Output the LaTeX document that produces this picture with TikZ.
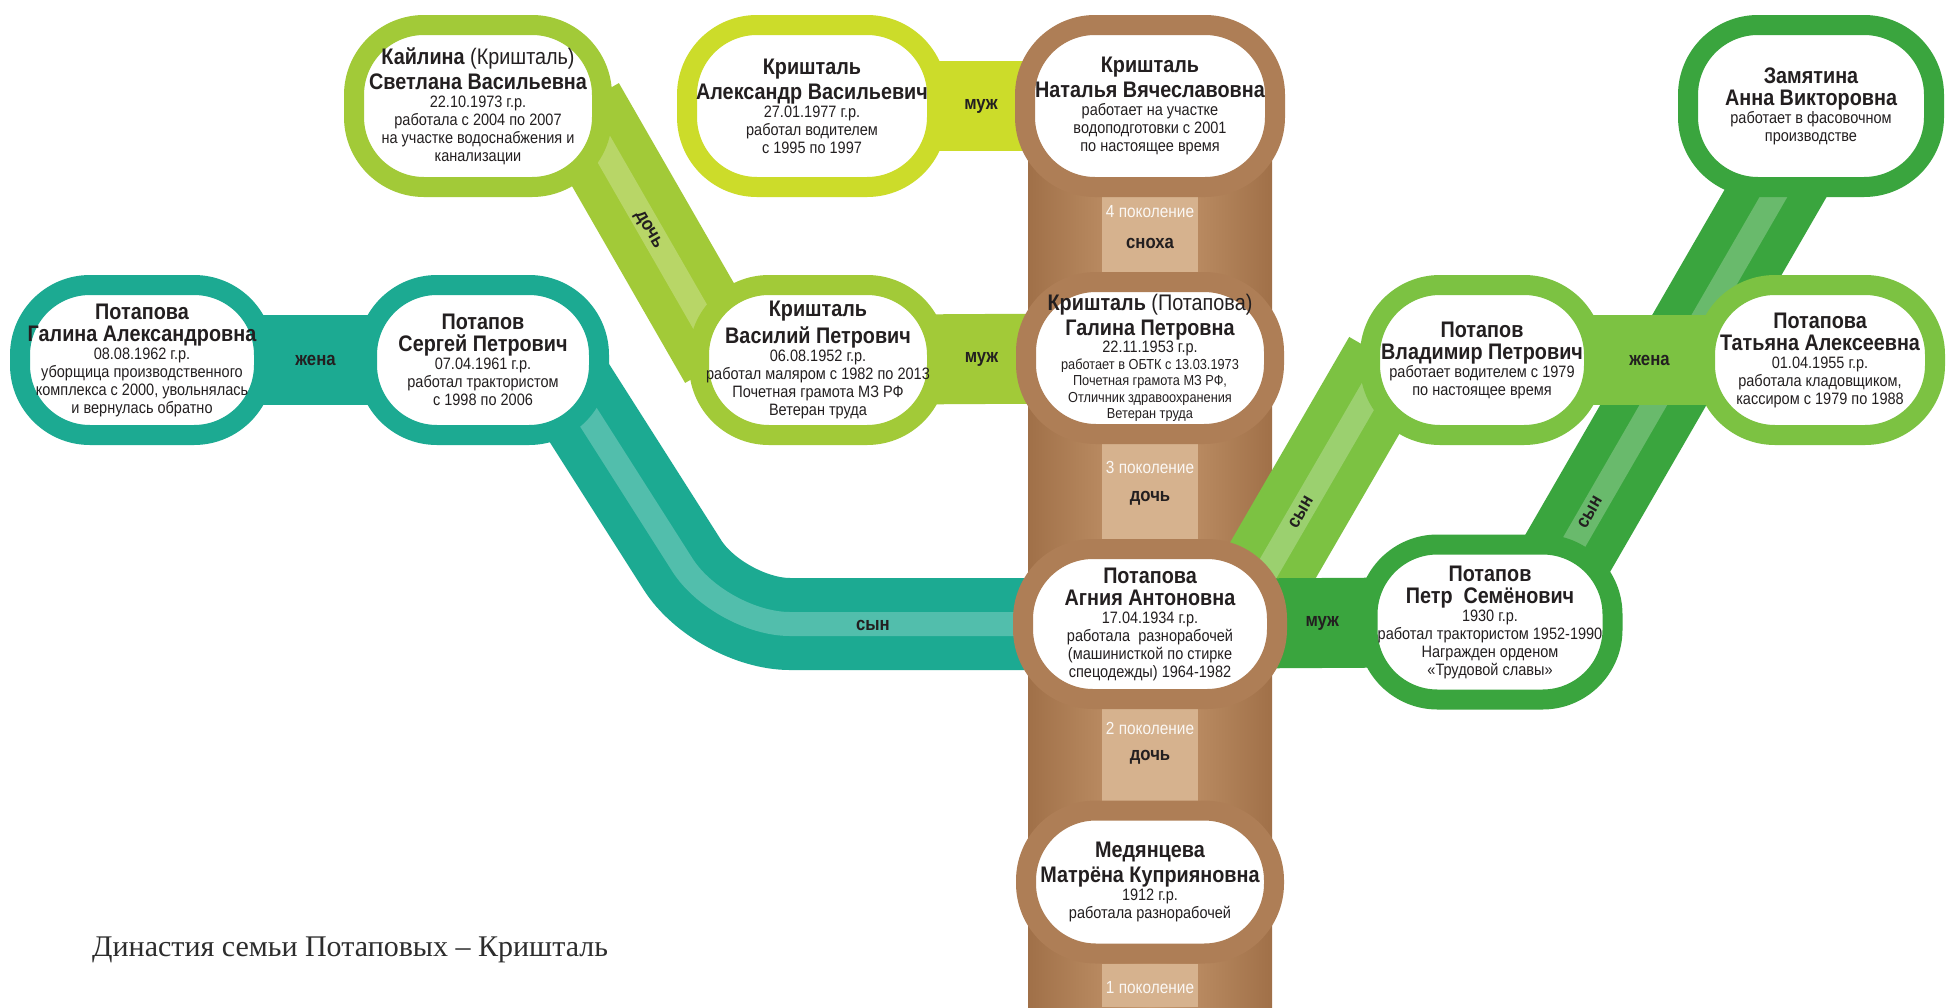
\documentclass[tikz,border=0pt]{standalone}
\usepackage{fontspec}
\setmainfont{Liberation Sans}[FakeStretch=0.88]
\newfontfamily\captionfont{Liberation Serif}
\usetikzlibrary{backgrounds,calc}
\newcommand\nm[1]{{\fontsize{22.5}{23}\selectfont\bfseries #1}}
\newcommand\rg[1]{{\fontsize{16.5}{18}\selectfont #1}}

\begin{document}
\begin{tikzpicture}[x=1pt,y=-1pt,
  person/.style={draw=#1,line width=20pt,fill=white,rounded corners=70pt,inner sep=0pt,align=center,text=ink,font=\fontsize{16.5}{18}\selectfont},
  band/.style={draw=#1,line width=92pt},
  bar/.style={draw=#1,line width=90pt},
  shine/.style={draw=white,draw opacity=0.24,line width=24pt},
  rel/.style={text=ink,inner sep=0pt,font=\fontsize{19}{19}\selectfont\bfseries},
  gen/.style={text=white,text opacity=0.9,inner sep=0pt,font=\fontsize{17.5}{17.5}\selectfont},
  patch/.style={fill=patchcolor}]
\definecolor{ink}{RGB}{35,31,32}
\definecolor{limecolor}{RGB}{162,202,56}
\definecolor{yellowcolor}{RGB}{204,220,42}
\definecolor{tealcolor}{RGB}{28,170,146}
\definecolor{leafcolor}{RGB}{124,194,66}
\definecolor{forestcolor}{RGB}{58,165,62}
\definecolor{ringcolor}{RGB}{174,126,86}
\definecolor{trunkcolor}{RGB}{160,112,72}
\definecolor{trunklight}{RGB}{200,154,112}
\definecolor{patchcolor}{RGB}{214,178,142}
\definecolor{captioncolor}{RGB}{45,45,45}
\useasboundingbox (0,0) rectangle (1948,1007);
\node[person=limecolor,minimum width=248pt,minimum height=162pt] (kay) at (478,106) {\nm{Кайлина \mdseries(Кришталь)}\\[4pt]\nm{Светлана Васильевна}\\22.10.1973 г.р.\\работала с 2004 по 2007\\на участке водоснабжения и\\канализации};
\node[person=yellowcolor,minimum width=250pt,minimum height=162pt] (alex) at (812,106) {\nm{Кришталь}\\[4pt]\nm{Александр Васильевич}\\27.01.1977 г.р.\\работал водителем\\с 1995 по 1997};
\node[person=ringcolor,minimum width=250pt,minimum height=162pt] (nat) at (1150,106) {\nm{Кришталь}\\[4pt]\nm{Наталья Вячеславовна}\\работает на участке\\водоподготовки с 2001\\по настоящее время};
\node[person=forestcolor,minimum width=246pt,minimum height=162pt] (zam) at (1811,106) {\nm{Замятина}\\[4pt]\nm{Анна Викторовна}\\работает в фасовочном\\производстве};
\node[person=tealcolor,minimum width=244pt,minimum height=150pt] (gala) at (142,360) {\nm{Потапова}\\[4pt]\nm{Галина Александровна}\\08.08.1962 г.р.\\уборщица производственного\\комплекса с 2000, увольнялась\\и вернулась обратно};
\node[person=tealcolor,minimum width=232pt,minimum height=150pt] (serg) at (483,360) {\nm{Потапов}\\[4pt]\nm{Сергей Петрович}\\07.04.1961 г.р.\\работал трактористом\\с 1998 по 2006};
\node[person=limecolor,minimum width=238pt,minimum height=150pt] (vas) at (818,360) {\nm{Кришталь}\\[4pt]\nm{Василий Петрович}\\06.08.1952 г.р.\\работал маляром с 1982 по 2013\\Почетная грамота МЗ РФ\\Ветеран труда};
\node[person=ringcolor,minimum width=248pt,minimum height=152pt,font=\fontsize{14.5}{16.5}\selectfont] (galp) at (1150,358) {\nm{Кришталь \mdseries(Потапова)}\\[4pt]\nm{Галина Петровна}\\[1pt]\rg{22.11.1953 г.р.}\\работает в ОБТК с 13.03.1973\\Почетная грамота МЗ РФ,\\Отличник здравоохранения\\Ветеран труда};
\node[person=leafcolor,minimum width=224pt,minimum height=150pt] (vlad) at (1482,360) {\nm{Потапов}\\[4pt]\nm{Владимир Петрович}\\работает водителем с 1979\\по настоящее время};
\node[person=leafcolor,minimum width=230pt,minimum height=150pt] (tat) at (1820,360) {\nm{Потапова}\\[4pt]\nm{Татьяна Алексеевна}\\01.04.1955 г.р.\\работала кладовщиком,\\кассиром с 1979 по 1988};
\node[person=ringcolor,minimum width=254pt,minimum height=150pt] (agn) at (1150,624) {\nm{Потапова}\\[4pt]\nm{Агния Антоновна}\\17.04.1934 г.р.\\работала\ \ разнорабочей\\(машинисткой по стирке\\спецодежды) 1964-1982};
\node[person=forestcolor,minimum width=245pt,minimum height=155pt] (petr) at (1490,622) {\nm{Потапов}\\[4pt]\nm{Петр\ \ Семёнович}\\1930 г.р.\\работал трактористом 1952-1990\\Награжден орденом\\«Трудовой славы»};
\node[person=ringcolor,minimum width=248pt,minimum height=143pt] (matr) at (1150,882) {\nm{Медянцева}\\[4pt]\nm{Матрёна Куприяновна}\\1912 г.р.\\работала разнорабочей};
\begin{scope}[on background layer]
\fill[white] (0,0) rectangle (1948,1007);
\coordinate (root) at (1150,1007);
\shade[left color=trunkcolor,right color=trunkcolor,middle color=trunklight] ([xshift=-122pt]nat.center) rectangle ([xshift=122pt]root);
\fill[patch] ([xshift=-48pt]nat.south) rectangle ([xshift=48pt]galp.north);
\fill[patch] ([xshift=-48pt]galp.south) rectangle ([xshift=48pt]agn.north);
\fill[patch] ([xshift=-48pt]agn.south) rectangle ([xshift=48pt]matr.north);
\fill[patch] ([xshift=-48pt]matr.south) rectangle ([xshift=48pt]root);
\coordinate (bend) at (720,624);
\draw[band=tealcolor,rounded corners=70pt] ([xshift=69pt]serg.center) -- (bend) -- (agn.center);
\draw[shine,rounded corners=70pt] ([xshift=69pt]serg.center) -- (bend) -- (agn.center);
\draw[band=limecolor] ([xshift=101pt]kay.center) -- ([xshift=-93pt]vas.center);
\draw[shine] ([xshift=101pt]kay.center) -- ([xshift=-93pt]vas.center);
\draw[band=leafcolor] ([xshift=86pt]agn.center) -- ([xshift=-93pt]vlad.center);
\draw[shine] ([xshift=86pt]agn.center) -- ([xshift=-93pt]vlad.center);
\draw[band=forestcolor] ([xshift=38pt]petr.center) -- ([xshift=15pt]zam.center);
\draw[shine] ([xshift=38pt]petr.center) -- ([xshift=15pt]zam.center);
\draw[bar=yellowcolor] (alex.center) -- (nat.center);
\draw[bar=tealcolor] (gala.center) -- (serg.center);
\draw[bar=limecolor] (vas.center) -- (galp.center);
\draw[bar=leafcolor] (vlad.center) -- (tat.center);
\draw[bar=forestcolor] (agn.center) -- (petr.center);
\end{scope}
\node[rel] (r1) at ($(alex.east)!0.5!(nat.west)$) {муж};
\node[rel] (r2) at ($(gala.east)!0.5!(serg.west)$) {жена};
\node[rel] (r3) at ($(vas.east)!0.5!(galp.west)$) {муж};
\node[rel] (r4) at ($(vlad.east)!0.5!(tat.west)$) {жена};
\node[rel] (r5) at ($(agn.east)!0.5!(petr.west)$) {муж};
\node[rel,rotate=-60] (r6) at (648,230) {дочь};
\node[rel] (r7) at (873,625) {сын};
\node[rel,rotate=60] (r8) at (1301,512) {сын};
\node[rel,rotate=60] (r9) at (1590,512) {сын};
\node[gen] (g4) at (1150,212) {4 поколение};
\node[rel] (t4) at (1150,243) {сноха};
\node[gen] (g3) at (1150,467) {3 поколение};
\node[rel] (t3) at (1150,498) {дочь};
\node[gen] (g2) at (1150,728) {2 поколение};
\node[rel] (t2) at (1150,757) {дочь};
\node[gen] (g1) at (1150,988) {1 поколение};
\node[anchor=west,text=captioncolor,inner sep=0pt,font=\captionfont\fontsize{30}{30}\selectfont] (title) at (92,950) {Династия семьи Потаповых – Кришталь};
\end{tikzpicture}
\end{document}
